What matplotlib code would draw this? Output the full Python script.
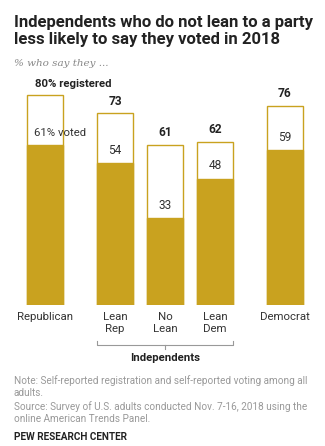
import matplotlib
matplotlib.use('Agg')
from matplotlib import pyplot as plt

categories = ['Republican', 'Lean\nRep', 'No\nLean', 'Lean\nDem', 'Democrat']
registered = [80, 73, 61, 62, 76]
voted = [61, 54, 33, 48, 59]
positions = [0, 1.4, 2.4, 3.4, 4.8]

GOLD = '#C9A21F'
W, H = 325, 446

plt.rcParams['font.family'] = ['Roboto', 'DejaVu Sans']

fig = plt.figure(figsize=(W / 100, H / 100), dpi=100)

def fy(y):
    return 1 - y / H

def fx(x):
    return x / W

# bar area: baseline at y=305px, top at y=80px
ax = fig.add_axes([0, fy(305), 1, (305 - 80) / H])
ax.set_xlim(-0.9, 5.6)
ax.set_ylim(0, (305 - 80) / 2.625)
ax.axis('off')

ax.bar(positions, registered, width=0.72, color='white', edgecolor=GOLD, linewidth=1)
ax.bar(positions, voted, width=0.72, color=GOLD, edgecolor=GOLD, linewidth=1)

for i, (p, r, v) in enumerate(zip(positions, registered, voted)):
    if i == 0:
        ax.text(p - 0.2, r + 2.2, f'{r}% registered', ha='left', va='bottom',
                fontsize=8.2, fontweight='bold', color='#222222')
        ax.text(p - 0.22, v + 2.5, f'{v}% voted', ha='left', va='bottom',
                fontsize=8.2, color='#333333')
    else:
        ax.text(p, r + 2.2, str(r), ha='center', va='bottom',
                fontsize=8.6, fontweight='bold', color='#222222')
        ax.text(p, v + 2.5, str(v), ha='center', va='bottom',
                fontsize=8.6, color='#333333')
    ax.text(p, -2.8, categories[i], ha='center', va='top', fontsize=8.2,
            color='#333333', linespacing=1.2, clip_on=False)

# bracket under independents
bx0, bx1, bm = 1.4 - 0.36, 3.4 - 0.36 + 0.72, 2.4
by = (305 - 345) / 2.625
ax.plot([bx0, bx0, bx1, bx1], [by + 1.4, by, by, by + 1.4], color='#999999',
        lw=0.8, clip_on=False)
ax.plot([bm, bm], [by, by - 1.4], color='#999999', lw=0.8, clip_on=False)
ax.text(bm, by - 3.0, 'Independents', ha='center', va='top', fontsize=8.2,
        fontweight='bold', color='#222222', clip_on=False)

fig.text(fx(14), fy(31), 'Independents who do not lean to a party\nless likely to say they voted in 2018',
         ha='left', va='center', fontsize=12, fontweight='bold', color='#222222',
         linespacing=1.2)
fig.text(fx(14), fy(63), '% who say they ...', ha='left', va='center', fontsize=7.5,
         style='italic', family='DejaVu Serif', color='#888888')

fig.text(fx(14), fy(386.5), 'Note: Self-reported registration and self-reported voting among all\nadults.',
         ha='left', va='center', fontsize=7.2, color='#999999', linespacing=1.3)
fig.text(fx(14), fy(412.5), 'Source: Survey of U.S. adults conducted Nov. 7-16, 2018 using the\nonline American Trends Panel.',
         ha='left', va='center', fontsize=7.2, color='#999999', linespacing=1.3)
fig.text(fx(14), fy(437), 'PEW RESEARCH CENTER', ha='left', va='center', fontsize=7.2,
         fontweight='bold', color='#222222')

fig.savefig('out.png', dpi=100, facecolor='white')
